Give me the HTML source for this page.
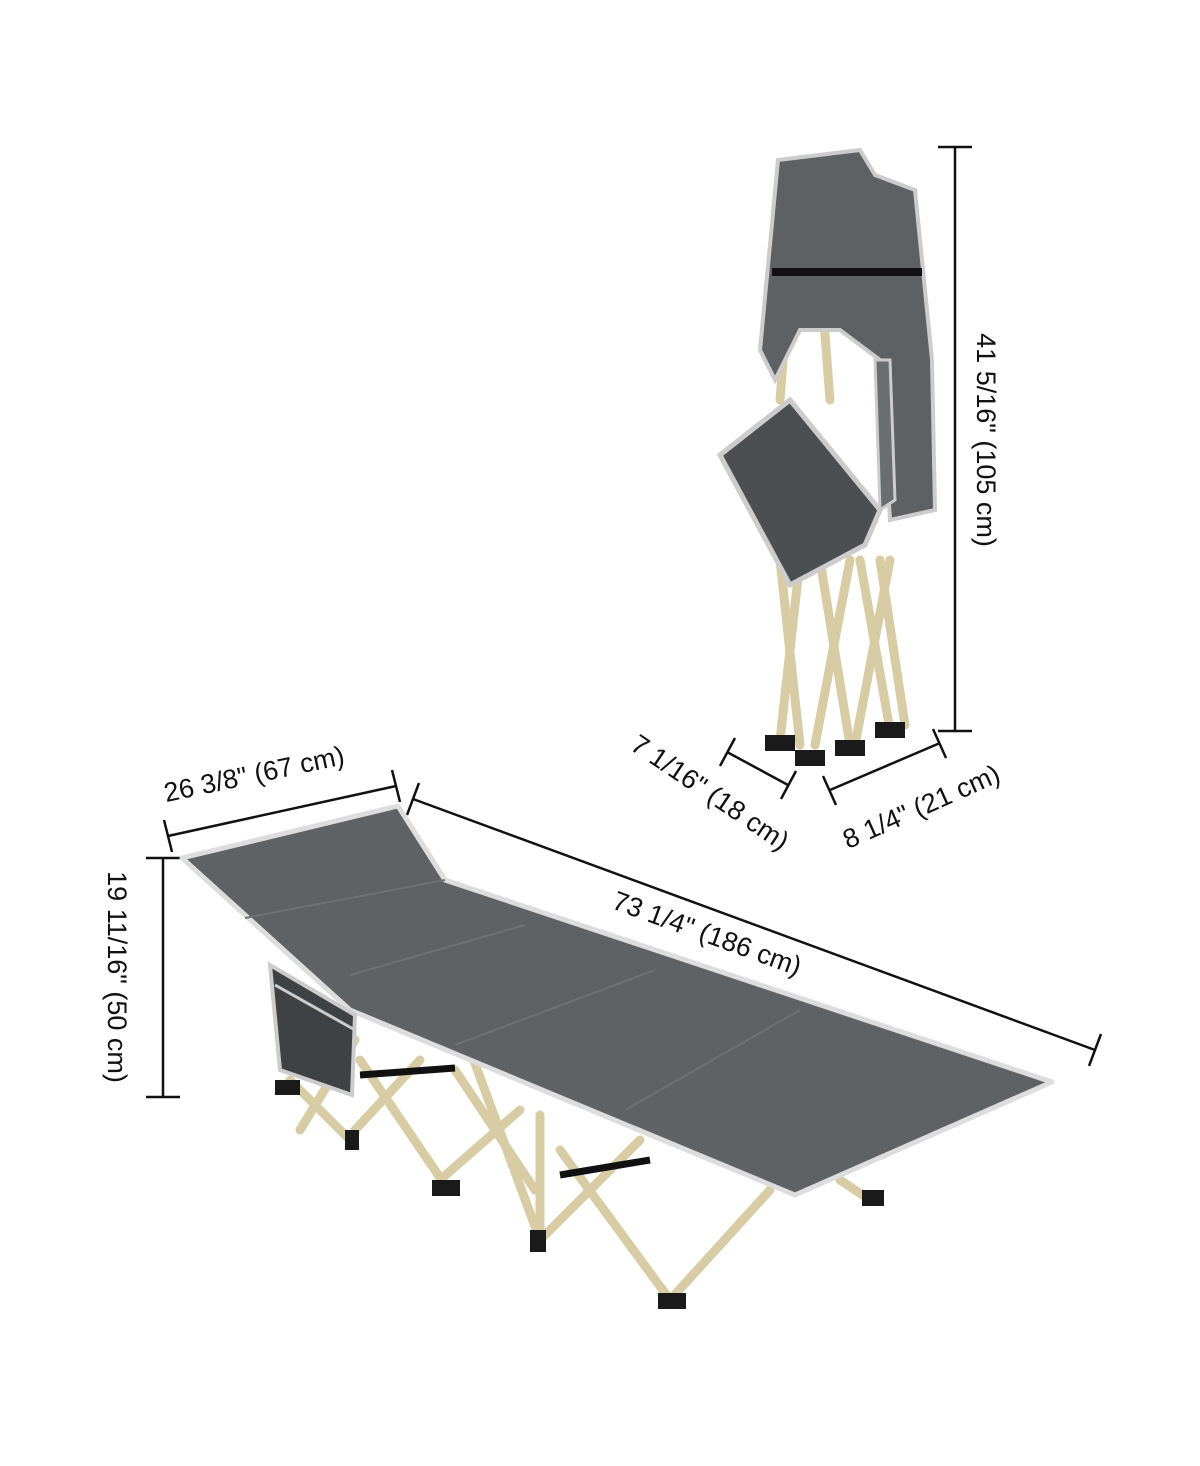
<!DOCTYPE html>
<html><head><meta charset="utf-8"><style>
html,body{margin:0;padding:0;background:#fff;}
svg{display:block}
text{font-family:"Liberation Sans",Arial,sans-serif;font-size:27px;fill:#111}
</style></head><body>
<svg width="1200" height="1466" viewBox="0 0 1200 1466" xmlns="http://www.w3.org/2000/svg">
<g stroke="#111" stroke-width="2.5" fill="none">
<line x1="955" y1="147" x2="955" y2="731"/>
<line x1="938" y1="147" x2="972" y2="147"/>
<line x1="938" y1="731" x2="972" y2="731"/>
<line x1="727" y1="752" x2="788" y2="785"/>
<line x1="735" y1="738" x2="720" y2="766"/>
<line x1="796" y1="771" x2="781" y2="799"/>
<line x1="830" y1="790" x2="940" y2="743"/>
<line x1="823" y1="776" x2="836" y2="805"/>
<line x1="933" y1="729" x2="946" y2="758"/>
<line x1="168" y1="836" x2="396" y2="786"/>
<line x1="164" y1="820" x2="172" y2="852"/>
<line x1="392" y1="770" x2="400" y2="802"/>
<line x1="163" y1="858" x2="163" y2="1097"/>
<line x1="146" y1="858" x2="180" y2="858"/>
<line x1="146" y1="1097" x2="180" y2="1097"/>
<line x1="413" y1="799" x2="1095" y2="1050"/>
<line x1="419" y1="783" x2="407" y2="815"/>
<line x1="1101" y1="1034" x2="1089" y2="1066"/>
</g>
<text transform="translate(977,440) rotate(90)" text-anchor="middle">41 5/16" (105 cm)</text>
<text transform="translate(705,800) rotate(34)" text-anchor="middle">7 1/16" (18 cm)</text>
<text transform="translate(925,815) rotate(-24)" text-anchor="middle">8 1/4" (21 cm)</text>
<text transform="translate(256,783) rotate(-12)" text-anchor="middle">26 3/8" (67 cm)</text>
<text transform="translate(108,977) rotate(90)" text-anchor="middle">19 11/16" (50 cm)</text>
<text transform="translate(704,942) rotate(20)" text-anchor="middle">73 1/4" (186 cm)</text>

<g stroke="#d8cca4" stroke-width="9" stroke-linecap="round">
<line x1="780" y1="560" x2="800" y2="745"/><line x1="800" y1="560" x2="780" y2="740"/>
<line x1="820" y1="560" x2="850" y2="745"/><line x1="850" y1="560" x2="815" y2="745"/>
<line x1="860" y1="560" x2="890" y2="730"/><line x1="890" y1="560" x2="855" y2="745"/>
<line x1="880" y1="560" x2="905" y2="725"/>
<line x1="790" y1="270" x2="780" y2="400"/><line x1="820" y1="270" x2="830" y2="400"/>
</g>
<g fill="#1a1a1a">
<rect x="765" y="735" width="30" height="16"/><rect x="795" y="750" width="30" height="16"/>
<rect x="835" y="740" width="30" height="16"/><rect x="875" y="722" width="30" height="16"/>
</g>
<path d="M778 160 L860 150 L875 175 L915 190 L932 360 L935 510 L890 520 L880 360 L840 330 L800 330 L775 380 L760 350 Z" fill="#5d6163" stroke="#ccc" stroke-width="4"/>
<path d="M720 455 L790 400 L880 510 L865 545 L790 585 Z" fill="#4b4f51" stroke="#ccc" stroke-width="5"/>
<path d="M875 360 L890 360 L895 500 L880 510 Z" fill="#6a6e70" stroke="#ccc" stroke-width="3"/>
<rect x="772" y="268" width="150" height="8" fill="#111"/>

<g stroke="#d8cca4" stroke-width="9" stroke-linecap="round">
<line x1="290" y1="1080" x2="350" y2="1140"/><line x1="300" y1="1130" x2="355" y2="1040"/>
<line x1="360" y1="1060" x2="445" y2="1185"/><line x1="420" y1="1060" x2="355" y2="1130"/>
<line x1="455" y1="1070" x2="535" y2="1190"/><line x1="520" y1="1110" x2="440" y2="1180"/>
<line x1="540" y1="1115" x2="540" y2="1240"/><line x1="470" y1="1050" x2="540" y2="1240"/>
<line x1="540" y1="1240" x2="640" y2="1140"/><line x1="560" y1="1150" x2="670" y2="1300"/>
<line x1="670" y1="1300" x2="770" y2="1190"/><line x1="840" y1="1180" x2="870" y2="1200"/>
</g>
<g stroke="#111" stroke-width="7">
<line x1="360" y1="1075" x2="455" y2="1068"/><line x1="560" y1="1175" x2="650" y2="1160"/>
</g>
<g fill="#1a1a1a">
<rect x="275" y="1080" width="25" height="15"/><rect x="345" y="1130" width="14" height="20"/>
<rect x="432" y="1180" width="28" height="16"/><rect x="530" y="1230" width="16" height="22"/>
<rect x="658" y="1293" width="28" height="16"/><rect x="862" y="1190" width="22" height="16"/>
</g>
<path d="M182 858 L398 806 L445 880 L1052 1082 L795 1195 L350 1010 Z" fill="#5e6264" stroke="#ddd" stroke-width="5" stroke-linejoin="round"/>
<g stroke="#6e7274" stroke-width="2" fill="none">
<line x1="245" y1="918" x2="445" y2="880"/>
<line x1="350" y1="975" x2="525" y2="925"/>
<line x1="455" y1="1045" x2="655" y2="970"/>
<line x1="625" y1="1110" x2="800" y2="1010"/>
</g>
<path d="M270 965 L355 1015 L352 1095 L280 1070 Z" fill="#3e4244" stroke="#ccc" stroke-width="4"/>
<line x1="275" y1="985" x2="355" y2="1030" stroke="#ccc" stroke-width="3"/>
</svg>
</body></html>
